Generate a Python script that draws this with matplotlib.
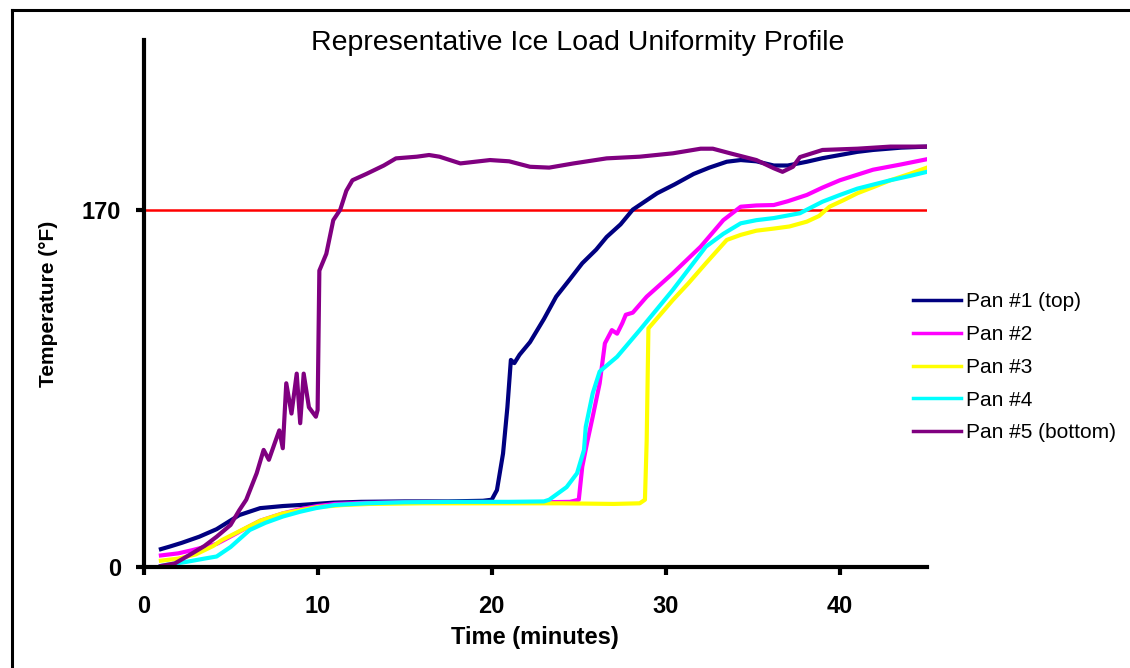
import matplotlib
matplotlib.use("Agg")
import matplotlib.pyplot as plt
from matplotlib.lines import Line2D

plt.rcParams['font.family'] = ['Liberation Sans', 'DejaVu Sans']

# ---- data ----
pan1_x = [1.0, 1.5, 2.2, 3.2, 4.2, 5.5, 6.7, 8.0, 9.0, 10.9, 12.5, 15, 17.5, 19.5, 20.0, 20.3, 20.65, 20.9,
          21.1, 21.3, 21.6, 22.2, 23.0, 23.7, 24.5, 25.2, 26.0, 26.6, 27.4, 28.1, 29.5, 30.5, 31.6, 32.5,
          33.5, 34.3, 35.2, 36.2, 37.0, 38.1, 39.0, 40.0, 41.0, 41.9, 43.5, 45.0]
pan1_y = [8.5, 9.7, 11.5, 14.4, 18, 24.7, 28, 29, 29.5, 30.6, 31, 31.2, 31.2, 31.5, 32, 36.6, 54, 76,
          98.5, 97, 101, 107, 118, 128.6, 137, 144.5, 151, 157, 163, 170, 177.8, 182, 187, 190,
          192.8, 193.6, 193, 191, 191, 192.8, 194.5, 196, 197.5, 198.4, 199.5, 200]

pan2_x = [1.0, 2.0, 2.8, 3.5, 4.2, 5.0, 6.0, 6.7, 8.0, 9.0, 10.0, 11.0, 12.8, 15, 18, 21, 23, 24.5, 25.0,
          25.2, 25.5, 25.8, 26.2, 26.5, 26.9, 27.2, 27.5, 27.7, 28.1, 28.9, 30.4, 32.0, 33.3, 34.3, 35.2,
          36.2, 37.0, 38.1, 39.0, 40.0, 41.9, 43.5, 45.0]
pan2_y = [5.5, 6.5, 8, 9.5, 11, 14.5, 19, 22, 25.5, 27.5, 29, 30, 30.5, 30.8, 30.8, 30.8, 30.8, 31, 32,
          47.7, 60, 71.5, 87.4, 106.4, 112.7, 111, 116, 120, 121, 128.6, 139.7, 152.4, 165, 171.4, 172,
          172.2, 174, 177, 180.5, 184, 189, 191.5, 194]

pan3_x = [1.0, 2.0, 3.0, 4.0, 4.5, 5.5, 6.7, 8.0, 9.0, 10.0, 11.5, 13, 16, 20, 24, 27, 28.5, 28.8, 28.9,
          29.0, 30.4, 31.3, 32.3, 33.5, 34.3, 35.2, 36.2, 37.1, 38.1, 38.8, 39.4, 40.2, 41.0, 42.0, 42.9,
          44.0, 45.0]
pan3_y = [3, 4, 6, 10, 12.8, 17, 22, 25.5, 27, 28.5, 29.5, 30, 30.3, 30.3, 30.3, 30, 30.3, 32, 60,
          113.5, 127, 135, 144.5, 155.6, 158, 160, 161, 162, 164.3, 167, 171.4, 174.5, 177.8, 181, 184,
          187, 190]

pan4_x = [1.0, 1.3, 2.5, 3.5, 4.2, 5.0, 6.1, 7.0, 8.0, 9.0, 9.9, 11.0, 12.8, 15, 18, 21, 23.0, 23.3, 24.3,
          24.9, 25.3, 25.4, 25.8, 26.2, 27.2, 28.5, 30.4, 32.3, 33.3, 34.3, 35.2, 36.2, 37.7, 39.0, 40.0,
          41.0, 42.9, 44.0, 45.0]
pan4_y = [0.5, 1, 2.5, 4, 5, 9.5, 17.6, 21, 24, 26.3, 28, 29.5, 30.3, 30.8, 31, 31, 31.2, 32, 38,
          44.6, 55.7, 66.7, 82.6, 93, 100, 112.7, 131.8, 152.4, 158.5, 163.5, 165, 166, 168.3, 173.8, 177,
          180, 184, 186, 188]

pan5_x = [1.0, 1.8, 2.8, 3.5, 4.2, 5.0, 5.5, 5.9, 6.5, 6.9, 7.2, 7.6, 7.8, 8.0, 8.2, 8.5, 8.8, 9.0, 9.2,
          9.5, 9.9, 10.0, 10.1, 10.5, 10.9, 11.3, 11.65, 12.0, 12.8, 13.8, 14.5, 15.7, 16.4, 17.0, 18.2,
          19.9, 21.0, 22.2, 23.3, 24.7, 26.6, 28.5, 30.4, 32.0, 32.7, 33.7, 35.2, 36.2, 36.7, 37.3, 37.7,
          39.0, 41.0, 42.9, 45.0]
pan5_y = [0.5, 1.7, 6.5, 10, 14.4, 20, 27, 32, 44.6, 55.7, 51, 60.4, 65, 56.5, 87.4, 73, 92, 68.4, 92,
          76, 71.5, 74.7, 141, 149, 165, 170, 179, 184, 187, 191, 194.4, 195.2, 196, 195.2, 192,
          193.6, 193, 190.4, 190, 192, 194.4, 195.2, 196.8, 199, 199, 196.8, 193.6, 189.7, 188, 190.4, 195,
          198.4, 199, 200, 200]

series_labels = ['Pan #1 (top)', 'Pan #2', 'Pan #3', 'Pan #4', 'Pan #5 (bottom)']
series_colors = ['#000080', '#FF00FF', '#FFFF00', '#00FFFF', '#800080']
threshold = 170
x_ticks = [0, 10, 20, 30, 40]
y_ticks = [0, 170]

W, H = 1130, 668
fig = plt.figure(figsize=(W / 100, H / 100), dpi=100)
fig.patch.set_facecolor('white')

# outer frame (left and top edges visible)
fig.add_artist(Line2D([12 / W, 12 / W], [0, 1 - 10 / H], color='black', lw=2.2, transform=fig.transFigure))
fig.add_artist(Line2D([12 / W, 1.0], [1 - 10 / H, 1 - 10 / H], color='black', lw=2.2, transform=fig.transFigure))

ax_l, ax_r, ax_b, ax_t = 143.5, 927, 567, 40
ax = fig.add_axes([ax_l / W, 1 - ax_b / H, (ax_r - ax_l) / W, (ax_b - ax_t) / H])
ax.set_xlim(0, 45)
ax.set_ylim(0, (ax_b - ax_t) / 2.102)

ax.axhline(threshold, color='#FF0000', lw=1.8, zorder=1)

xs = [pan1_x, pan2_x, pan3_x, pan4_x, pan5_x]
ys = [pan1_y, pan2_y, pan3_y, pan4_y, pan5_y]
handles = []
for x, y, c, lab in zip(xs, ys, series_colors, series_labels):
    h, = ax.plot(x, y, color=c, lw=3.0, label=lab, zorder=2, solid_joinstyle='round')
    handles.append(h)

for s in ['top', 'right']:
    ax.spines[s].set_visible(False)
for s in ['left', 'bottom']:
    ax.spines[s].set_linewidth(3)
ax.set_xticks(x_ticks)
ax.set_yticks(y_ticks)
ax.tick_params(direction='out', length=6, width=3, labelsize=17)
ax.tick_params(axis='x', pad=14)
ax.tick_params(axis='y', pad=10)
for t in ax.get_xticklabels() + ax.get_yticklabels():
    t.set_fontweight('bold')

ax.set_xlabel('Time (minutes)', fontsize=17, fontweight='bold', labelpad=6)
ax.set_ylabel('Temperature (°F)', fontsize=15, fontweight='bold', labelpad=17)

fig.text(578 / W, 1 - 43 / H, 'Representative Ice Load Uniformity Profile', ha='center', va='center',
         fontsize=20.5)

leg = fig.legend(handles=handles, labels=series_labels, loc='upper left',
                 bbox_to_anchor=(905 / W, 1 - 284 / H), frameon=False, fontsize=15,
                 handlelength=2.3, handletextpad=0.25, labelspacing=0.66, borderaxespad=0)
for ln in leg.get_lines():
    ln.set_linewidth(2.5)

fig.savefig('out.png', dpi=100)
